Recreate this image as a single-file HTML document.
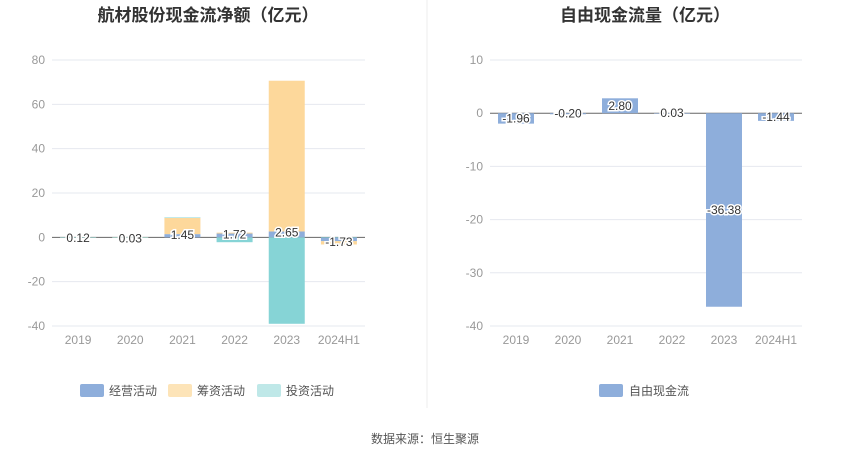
<!DOCTYPE html>
<html><head><meta charset="utf-8"><style>
body{margin:0;background:#fff;font-family:"Liberation Sans","Noto Sans CJK SC",sans-serif;}
svg text{font-family:"Liberation Sans","Noto Sans CJK SC",sans-serif;}
</style></head><body>
<svg id="s" width="850" height="459">
<text x="208" y="21" text-anchor="middle" font-size="17" font-weight="bold" fill="#333">航材股份现金流净额（亿元）</text>
<text x="645" y="21" text-anchor="middle" font-size="17" font-weight="bold" fill="#333">自由现金流量（亿元）</text>
<line x1="427" y1="0" x2="427" y2="408" stroke="#eee"/>
<g id="L"></g><g id="R"></g>
<rect x="80" y="384" width="24" height="13" fill="#8eaedb" rx="2"/>
<text x="109" y="395" font-size="12" fill="#555">经营活动</text>
<rect x="168" y="384" width="24" height="13" fill="#fde4b8" rx="2"/>
<text x="197" y="395" font-size="12" fill="#555">筹资活动</text>
<rect x="257" y="384" width="24" height="13" fill="#bfe8e8" rx="2"/>
<text x="286" y="395" font-size="12" fill="#555">投资活动</text>
<rect x="599" y="384" width="24" height="13" fill="#8eaedb" rx="2"/>
<text x="629" y="395" font-size="12" fill="#555">自由现金流</text>
<text x="425" y="443" text-anchor="middle" font-size="12" fill="#555">数据来源：恒生聚源</text>
</svg>
<script>
const categories=["2019","2020","2021","2022","2023","2024H1"];
const operating=[0.12,0.03,1.45,1.72,2.65,-1.73];
const financing=[0,0,7.5,0.4,68,-1.5];
const investing=[0,0,0,-2.2,-39,0];
const fcf=[-1.96,-0.20,2.80,0.03,-36.38,-1.44];
const leftTicks=[80,60,40,20,0,-20,-40];
const rightTicks=[10,0,-10,-20,-30,-40];
const NS="http://www.w3.org/2000/svg";
function mk(p,t,a){const e=document.createElementNS(NS,t);for(const k in a)e.setAttribute(k,a[k]);p.appendChild(e);return e;}
function chart(g,x0,x1,max,min,ticks,name){
 const y=v=>60+(max-v)/(max-min)*266;
 const bw=(x1-x0)/categories.length;
 const cx=i=>x0+bw*(i+0.5);
 ticks.forEach(t=>{
  const l=mk(g,'line',{x1:x0,x2:x1,y1:y(t),y2:y(t),stroke:t===0?'#666':'#e6e8ef'});
  
  const tx=mk(g,'text',{x:x0-7,y:y(t)+4,'text-anchor':'end','font-size':12,fill:'#999'});tx.textContent=t;
  
 });
 categories.forEach((c,i)=>{
  const tx=mk(g,'text',{x:cx(i),y:344,'text-anchor':'middle','font-size':12,fill:'#999'});tx.textContent=c;
  
 });
 return {y,cx,bw};
}
const L=document.getElementById('L'),R=document.getElementById('R');
const a=chart(L,52,365,80,-40,leftTicks,'left');
function bar(g,x,w,v0,v1,y,col,nm){
 const t=Math.min(y(v0),y(v1)),h=Math.abs(y(v0)-y(v1));
 const r=mk(g,'rect',{x:x-w/2,y:t,width:w,height:Math.max(h,0.5),fill:col});
 
}
function lbl(g,x,yy,txt,nm){
 const t=mk(g,'text',{x:x,y:yy,'text-anchor':'middle','font-size':12,fill:'#333',stroke:'#fff','stroke-width':3,'paint-order':'stroke'});t.textContent=txt;
 
}
categories.forEach((c,i)=>{
 let pos=0,neg=0;const w=36,x=a.cx(i);
 [[operating[i],'#8eaedb','bar-operating'],[financing[i],'#fdd89b','bar-financing'],[investing[i],'#86d4d6','bar-investing']].forEach(([v,col,nm])=>{
  if(v>=0){bar(L,x,w,pos,pos+v,a.y,col,nm);pos+=v;}else{bar(L,x,w,neg,neg+v,a.y,col,nm);neg+=v;}
 });
 lbl(L,x,a.y(operating[i])+ (operating[i]>=0?5:5),operating[i].toFixed(2),'label-operating');
});
const b=chart(R,490,802,10,-40,rightTicks,'right');
categories.forEach((c,i)=>{
 bar(R,b.cx(i),36,0,fcf[i],b.y,'#8eaedb','bar-fcf');
 const v=fcf[i];const yy=Math.abs(v)>5?b.y(v/2)+4:b.y(v/2)+4;
 lbl(R,b.cx(i),yy,v.toFixed(2),'label-fcf');
});
</script>
</body></html>
